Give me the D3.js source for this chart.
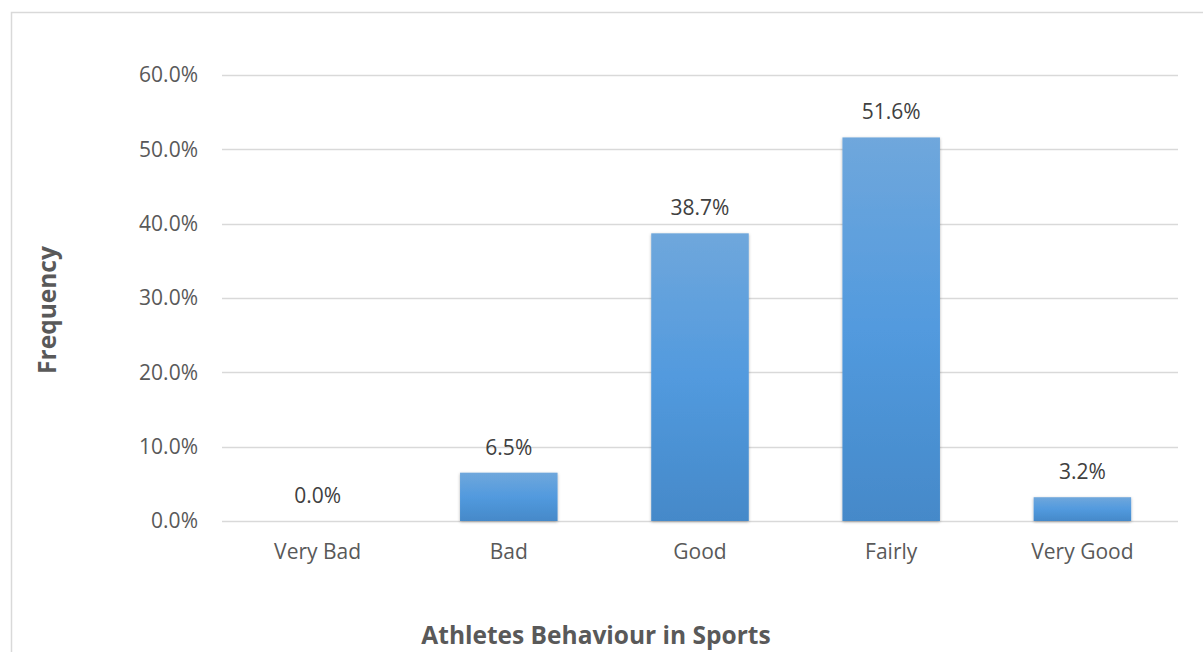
<!DOCTYPE html>
<html>
<head>
<meta charset="utf-8">
<script src="https://cdn.jsdelivr.net/npm/d3@7"></script>
<style>
  body { margin: 0; background: #fff; }
  svg text { font-family: "Open Sans", "DejaVu Sans", sans-serif; }
</style>
</head>
<body>
<svg id="chart" width="1203" height="652"></svg>
<script>
// 数据
const categories = ["Very Bad", "Bad", "Good", "Fairly", "Very Good"];
const values = [0.0, 6.5, 38.7, 51.6, 3.2];
const yTicks = [0, 10, 20, 30, 40, 50, 60];

const svg = d3.select("#chart");
const margin = { left: 222, right: 25, top: 75, bottom: 131 };
const W = 1203, H = 652;

// 外框
svg.append("rect")
    .attr("x", 11.5).attr("y", 12.5)
    .attr("width", 1300).attr("height", 800)
    .attr("fill", "none")
    .attr("stroke", "#d9d9d9")
    .attr("stroke-width", 1.5);

const x = d3.scaleBand()
    .domain(categories)
    .range([margin.left, W - margin.right])
    .paddingInner(0.49)
    .paddingOuter(0.245);

const y = d3.scaleLinear()
    .domain([0, 60])
    .range([H - margin.bottom, margin.top]);

// 渐变
const defs = svg.append("defs");
const grad = defs.append("linearGradient")
    .attr("id", "barGrad")
    .attr("x1", 0).attr("y1", 0).attr("x2", 0).attr("y2", 1);
grad.append("stop").attr("offset", "0%").attr("stop-color", "#6fa7dc");
grad.append("stop").attr("offset", "50%").attr("stop-color", "#529ade");
grad.append("stop").attr("offset", "100%").attr("stop-color", "#4589c9");

const shadow = defs.append("filter").attr("id", "shadow")
    .attr("x", "-10%").attr("y", "-10%").attr("width", "120%").attr("height", "120%");
shadow.append("feDropShadow")
    .attr("dx", 0).attr("dy", 1).attr("stdDeviation", 1.5)
    .attr("flood-color", "#000").attr("flood-opacity", 0.3);

// 网格线
svg.append("g")
    .selectAll("line")
    .data(yTicks)
    .join("line")
    .attr("x1", margin.left)
    .attr("x2", W - margin.right)
    .attr("y1", d => Math.round(y(d)) + 0.5)
    .attr("y2", d => Math.round(y(d)) + 0.5)
    .attr("stroke", "#d9d9d9")
    .attr("stroke-width", 1.5);

// y 轴标签
svg.append("g")
    .selectAll("text")
    .data(yTicks)
    .join("text")
    .attr("x", 198)
    .attr("y", d => y(d))
    .attr("dy", "0.35em")
    .attr("text-anchor", "end")
    .attr("font-size", 21)
    .attr("fill", "#595959")
    .text(d => d.toFixed(1) + "%");

// 柱子
svg.append("g")
    .selectAll("rect")
    .data(values)
    .join("rect")
    .attr("x", (d, i) => x(categories[i]))
    .attr("y", d => y(d))
    .attr("width", x.bandwidth())
    .attr("height", d => y(0) - y(d))
    .attr("fill", "url(#barGrad)")
    .attr("filter", "url(#shadow)");

// 数据标签
svg.append("g")
    .selectAll("text")
    .data(values)
    .join("text")
    .attr("x", (d, i) => x(categories[i]) + x.bandwidth() / 2)
    .attr("y", d => y(d) - 18)
    .attr("text-anchor", "middle")
    .attr("font-size", 21)
    .attr("fill", "#404040")
    .text(d => d.toFixed(1) + "%");

// x 轴标签
svg.append("g")
    .selectAll("text")
    .data(categories)
    .join("text")
    .attr("x", d => x(d) + x.bandwidth() / 2)
    .attr("y", 559)
    .attr("text-anchor", "middle")
    .attr("font-size", 21)
    .attr("fill", "#595959")
    .text(d => d);

// 坐标轴标题
svg.append("text")
    .attr("x", 596)
    .attr("y", 644)
    .attr("text-anchor", "middle")
    .attr("font-size", 24.5)
    .attr("font-weight", "bold")
    .attr("fill", "#595959")
    .text("Athletes Behaviour in Sports");

svg.append("text")
    .attr("transform", "translate(56, 310) rotate(-90)")
    .attr("text-anchor", "middle")
    .attr("font-size", 24.5)
    .attr("font-weight", "bold")
    .attr("fill", "#595959")
    .text("Frequency");
</script>
</body>
</html>
